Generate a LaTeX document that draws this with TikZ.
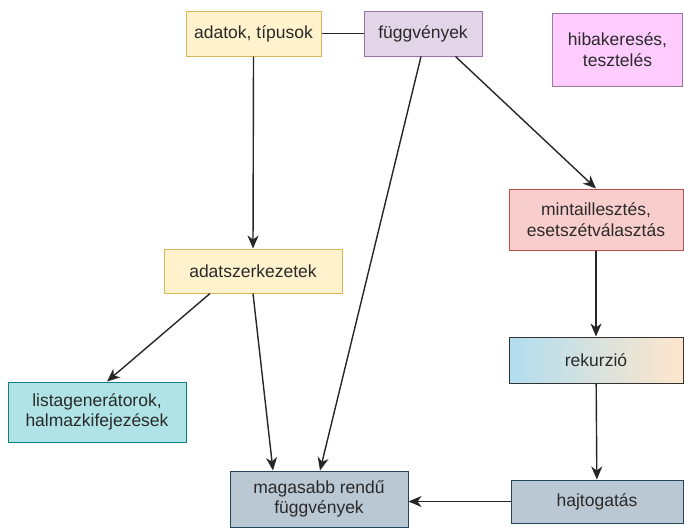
\documentclass[tikz,border=0pt]{standalone}
\usepackage{fontspec}
\setmainfont{Liberation Sans}
\usepackage{xcolor}
\usetikzlibrary{arrows,arrows.meta,positioning}
\definecolor{yfill}{HTML}{FFF2CC}\definecolor{yline}{HTML}{D6B656}
\definecolor{pfill}{HTML}{E1D5E7}\definecolor{pline}{HTML}{9673A6}
\definecolor{mfill}{HTML}{FFCCFF}\definecolor{mline}{HTML}{9A7A9A}
\definecolor{rfill}{HTML}{F8CECC}\definecolor{rline}{HTML}{B85450}
\definecolor{tfill}{HTML}{B0E3E6}\definecolor{tline}{HTML}{0E8088}
\definecolor{gfill}{HTML}{BAC8D3}\definecolor{gline}{HTML}{23445D}
\definecolor{bfill}{HTML}{B1DDF0}\definecolor{ofill}{HTML}{FFE6CC}
\definecolor{txt}{HTML}{2A2A2A}
\tikzset{
  box/.style={draw, line width=1pt, text=txt, align=center,
    font=\fontsize{17.5}{20.5}\selectfont, inner sep=2pt},
  conn/.style={draw=black!85, line width=1.4pt},
  arr/.style={conn, -{Stealth[length=13pt,width=11pt,inset=4pt]}}
}

\begin{document}
\begin{tikzpicture}[x=1pt,y=-1pt]
\useasboundingbox (0,0) rectangle (684,528);
  \node[box, fill=yfill, draw=yline, minimum width=135pt, minimum height=45pt]
    (adatok) at (253.5,33.5) {adatok, típusok};
  \node[box, fill=pfill, draw=pline, minimum width=118pt, minimum height=45pt]
    (fuggv) at (423,33.5) {függvények};
  \node[box, fill=mfill, draw=mline, minimum width=130pt, minimum height=73pt]
    (hiba) at (617.5,49.5) {hibakeresés,\\tesztelés};
  \node[box, fill=rfill, draw=rline, minimum width=174pt, minimum height=61pt]
    (minta) at (596,219.5) {mintaillesztés,\\esetszétválasztás};
  \node[box, left color=bfill, right color=ofill, draw=black!80,
    minimum width=174pt, minimum height=46pt]
    (rekurz) at (596,360) {rekurzió};
  \node[box, fill=yfill, draw=yline, minimum width=178pt, minimum height=44pt]
    (adatsz) at (253,271) {adatszerkezetek};
  \node[box, fill=tfill, draw=tline, minimum width=178pt, minimum height=60pt]
    (lista) at (97,412) {listagenerátorok,\\halmazkifejezések};
  \node[box, fill=gfill, draw=gline, minimum width=178pt, minimum height=56pt]
    (magas) at (319,499) {magasabb rendű\\függvények};
  \node[box, fill=gfill, draw=gline, minimum width=172pt, minimum height=43pt]
    (hajt) at (597,501.5) {hajtogatás};

  \draw[conn] (adatok) -- (fuggv);
  \draw[arr] (adatok.south) -- (adatsz.north);
  \draw[arr] ([xshift=-2pt]fuggv.south) -- ([xshift=1pt]magas.north);
  \draw[arr] ([xshift=-27pt]fuggv.south east) -- (minta.north);
  \draw[arr] ([xshift=-43pt]adatsz.south) -- ([xshift=10pt]lista.north);
  \draw[arr] (adatsz.south) -- ([xshift=-46pt]magas.north);
  \draw[arr] (minta) -- (rekurz);
  \draw[arr] (rekurz) -- (hajt);
  \draw[arr] (hajt.west) -- (hajt.west -| magas.east);
\end{tikzpicture}
\end{document}
